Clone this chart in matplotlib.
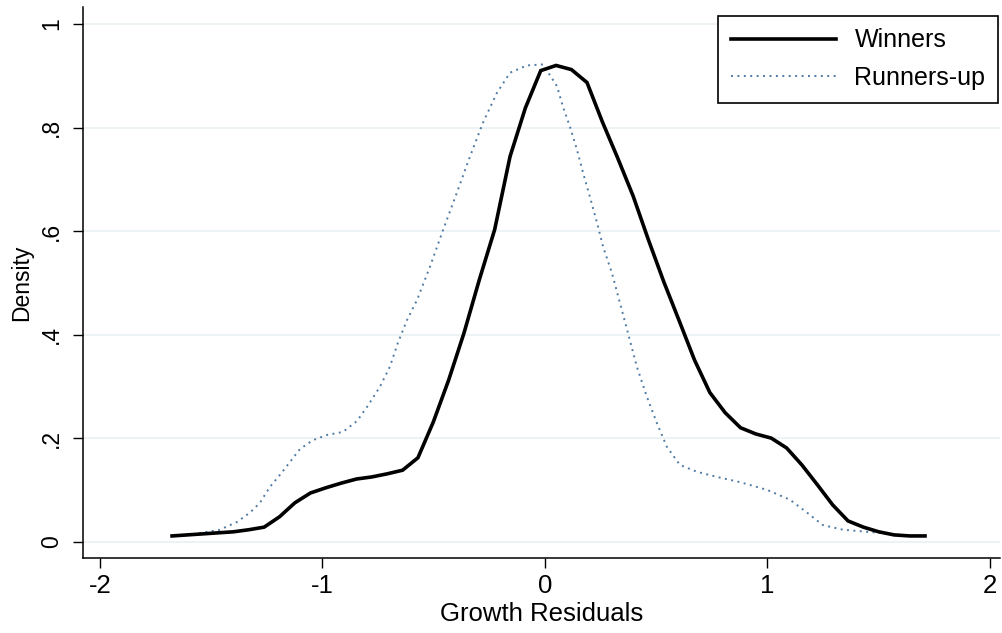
"""
Kernel density of growth residuals: winners vs runners-up (Stata-style look).

Run:
    python plot.py   -> out.png
"""

import matplotlib
matplotlib.use("Agg")
import matplotlib.pyplot as plt

plt.rcParams["font.family"] = ["Liberation Sans", "DejaVu Sans"]
plt.rcParams["axes.unicode_minus"] = False

# Data -----------------------------------------------------------------------

winners_x = [-1.676, -1.607, -1.538, -1.469, -1.400, -1.331, -1.262, -1.193,
             -1.124, -1.054, -0.985, -0.916, -0.847, -0.778, -0.709, -0.640,
             -0.571, -0.502, -0.433, -0.364, -0.295, -0.226, -0.157, -0.088,
             -0.019, 0.050, 0.119, 0.189, 0.258, 0.327, 0.396, 0.465,
             0.534, 0.603, 0.672, 0.741, 0.810, 0.879, 0.948, 1.017,
             1.086, 1.155, 1.224, 1.293, 1.362, 1.431, 1.500, 1.569,
             1.639, 1.708]
winners_y = [0.011, 0.013, 0.015, 0.017, 0.019, 0.023, 0.028, 0.048,
             0.075, 0.094, 0.104, 0.113, 0.121, 0.125, 0.131, 0.138,
             0.162, 0.231, 0.312, 0.403, 0.506, 0.603, 0.744, 0.838,
             0.910, 0.920, 0.912, 0.887, 0.811, 0.741, 0.668, 0.583,
             0.502, 0.427, 0.351, 0.288, 0.249, 0.220, 0.208, 0.200,
             0.181, 0.148, 0.110, 0.071, 0.040, 0.028, 0.019, 0.013,
             0.011, 0.011]

runners_x = [-1.640, -1.573, -1.461, -1.384, -1.326, -1.281, -1.236, -1.191,
             -1.146, -1.101, -1.043, -0.980, -0.908, -0.845, -0.800, -0.742,
             -0.697, -0.661, -0.620, -0.575, -0.517, -0.458, -0.396, -0.337,
             -0.279, -0.216, -0.157, -0.081, -0.009, 0.054, 0.081, 0.112,
             0.144, 0.171, 0.202, 0.234, 0.261, 0.301, 0.337, 0.373,
             0.413, 0.458, 0.503, 0.548, 0.607, 0.683, 0.773, 0.876,
             0.998, 1.101, 1.178, 1.249, 1.339, 1.447, 1.506, 1.596]
runners_y = [0.011, 0.015, 0.023, 0.038, 0.056, 0.075, 0.106, 0.129,
             0.154, 0.179, 0.196, 0.206, 0.212, 0.233, 0.260, 0.299,
             0.338, 0.384, 0.428, 0.467, 0.531, 0.602, 0.674, 0.744,
             0.809, 0.867, 0.906, 0.920, 0.922, 0.880, 0.840, 0.802,
             0.757, 0.713, 0.666, 0.616, 0.570, 0.519, 0.461, 0.403,
             0.338, 0.280, 0.229, 0.183, 0.148, 0.135, 0.125, 0.115,
             0.100, 0.081, 0.056, 0.032, 0.023, 0.019, 0.017, 0.013]

x_ticks = [-2, -1, 0, 1, 2]
x_ticklabels = ["-2", "-1", "0", "1", "2"]
y_ticks = [0, 0.2, 0.4, 0.6, 0.8, 1.0]
y_ticklabels = ["0", ".2", ".4", ".6", ".8", "1"]

# Figure ---------------------------------------------------------------------

fig = plt.figure(figsize=(10.03, 6.33), dpi=100)
ax = fig.add_axes([0.0828, 0.1185, 0.9142, 0.8705])

ax.set_xlim(-2.076, 2.045)
ax.set_ylim(-0.0316, 1.033)

for yv in y_ticks:
    ax.axhline(yv, color="#eaf1f3", lw=1.2, zorder=0)

ax.plot(winners_x, winners_y, color="black", lw=2.6, label="Winners",
        solid_joinstyle="miter", zorder=3)
ax.plot(runners_x, runners_y, color="#4f7aa3", lw=1.4,
        linestyle=(0, (1, 2.3)), label="Runners-up", zorder=2)

for s in ("top", "right"):
    ax.spines[s].set_visible(False)
for s in ("left", "bottom"):
    ax.spines[s].set_linewidth(1.1)

ax.set_xticks(x_ticks)
ax.set_xticklabels(x_ticklabels, fontsize=18.5)
ax.set_yticks(y_ticks)
ax.set_yticklabels(y_ticklabels, fontsize=16.5, rotation=90, va="center")
ax.tick_params(axis="both", direction="out", length=7.2, width=1.0)
ax.tick_params(axis="x", pad=4)
ax.tick_params(axis="y", pad=7)

ax.set_xlabel("Growth Residuals", fontsize=18.5, labelpad=3)
ax.set_ylabel("Density", fontsize=16.5, labelpad=5)

leg = ax.legend(loc="upper right", bbox_to_anchor=(0.995, 0.975),
                bbox_transform=fig.transFigure, fontsize=18,
                frameon=True, fancybox=False, framealpha=1,
                edgecolor="black", handlelength=4.2, handletextpad=0.75,
                labelspacing=0.55, borderpad=0.5, borderaxespad=0)
leg.get_frame().set_linewidth(1.2)

fig.savefig("out.png", dpi=100, facecolor="white")
plt.close(fig)
